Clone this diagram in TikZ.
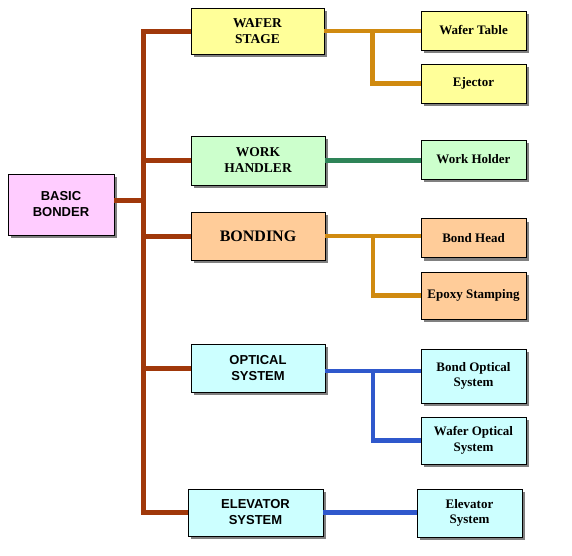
\documentclass[tikz,border=0pt]{standalone}
\usepackage{fontspec}
\setmainfont{Liberation Serif}
\newfontfamily\arialfont{Liberation Sans}
\usetikzlibrary{calc,shadows}
\definecolor{boxyellow}{HTML}{FFFF99}
\definecolor{boxgreen}{HTML}{CCFFCC}
\definecolor{boxpink}{HTML}{FFCCFF}
\definecolor{boxorange}{HTML}{FFCC99}
\definecolor{boxcyan}{HTML}{CCFFFF}
\definecolor{busbrown}{HTML}{A0380A}
\definecolor{linkorange}{HTML}{D08A10}
\definecolor{linkgreen}{HTML}{2E8458}
\definecolor{linkblue}{HTML}{2F58CC}
\tikzset{
  box/.style={draw,rectangle,line width=0.8pt,align=center,inner sep=0pt,
    drop shadow={shadow xshift=3pt,shadow yshift=-3pt,fill=black!50,opacity=1}},
  mainbox/.style={box,font=\fontsize{13.5}{16}\selectfont\bfseries},
  sansbox/.style={box,font=\arialfont\fontsize{13}{16}\selectfont\bfseries},
  subbox/.style={box,minimum width=105pt,font=\fontsize{13}{15.5}\selectfont\bfseries},
  bus/.style={line width=5pt,draw=busbrown},
  link/.style={line width=4.5pt}
}
\begin{document}
\begin{tikzpicture}[x=1pt,y=-1pt]
  \useasboundingbox (0,0) rectangle (572,555);
  \coordinate (trunk) at (143,0);

  % first level
  \node[sansbox,fill=boxpink,minimum width=106pt,minimum height=61pt] (bb) at (61,204.5) {BASIC\\BONDER};
  \node[mainbox,fill=boxyellow,minimum width=133pt,minimum height=46pt] (ws) at (257.5,31) {WAFER\\STAGE};
  \node[mainbox,fill=boxgreen,minimum width=134pt,minimum height=49pt] (wh) at (258,160.5) {WORK\\HANDLER};
  \node[box,fill=boxorange,minimum width=134pt,minimum height=48pt,font=\fontsize{16}{19}\selectfont\bfseries] (bd) at (258,236) {BONDING};
  \node[sansbox,fill=boxcyan,minimum width=134pt,minimum height=48pt] (os) at (258,368) {OPTICAL\\SYSTEM};
  \node[sansbox,fill=boxcyan,minimum width=135pt,minimum height=47pt] (el) at (255.5,512.5) {ELEVATOR\\SYSTEM};

  % second level
  \node[subbox,fill=boxyellow,minimum height=39pt] (wt) at (473.5,30.5) {Wafer Table};
  \node[subbox,fill=boxyellow,minimum height=39pt] (ej) at (473.5,83.5) {Ejector};
  \node[subbox,fill=boxgreen,minimum height=39pt] (wo) at (473.5,159.5) {Work Holder};
  \node[subbox,fill=boxorange,minimum height=39pt] (bh) at (473.5,238) {Bond Head};
  \node[subbox,fill=boxorange,minimum height=47pt] (ep) at (473.5,295.5) {Epoxy Stamping};
  \node[subbox,fill=boxcyan,minimum height=54pt] (bo) at (473.5,376) {Bond Optical\\System};
  \node[subbox,fill=boxcyan,minimum height=47pt] (wf) at (473.5,440.5) {Wafer Optical\\System};
  \node[subbox,fill=boxcyan,minimum height=48pt] (es) at (469.5,513) {Elevator\\System};

  % trunk
  \draw[bus] (ws.west) -| (trunk |- el.west) -- (el.west);
  \draw[bus] ([yshift=4pt]bb.east) coordinate (bbout) -- (bbout -| trunk);
  \draw[bus] (wh.west) -- (wh.west -| trunk);
  \draw[bus] (bd.west) -- (bd.west -| trunk);
  \draw[bus] (os.west) -- (os.west -| trunk);

  % branches
  \draw[link,linkorange] (ws.east) -- (ws.east -| wt.west);
  \draw[link,linkorange] ($(ws.east)!.5!(ws.east -| wt.west)$) |- (ej.west);
  \draw[link,linkgreen] (wh.east) -- (wh.east -| wo.west);
  \draw[link,linkorange] (bd.east) -- (bd.east -| bh.west);
  \draw[link,linkorange] ($(bd.east)!.5!(bd.east -| bh.west)$) |- (ep.west);
  \draw[link,linkblue] ([yshift=-3pt]os.east) coordinate (osout) -- (osout -| bo.west);
  \draw[link,linkblue] ($(osout)!.5!(osout -| bo.west)$) |- (wf.west);
  \draw[link,linkblue] (el.east) -- (el.east -| es.west);
\end{tikzpicture}
\end{document}
